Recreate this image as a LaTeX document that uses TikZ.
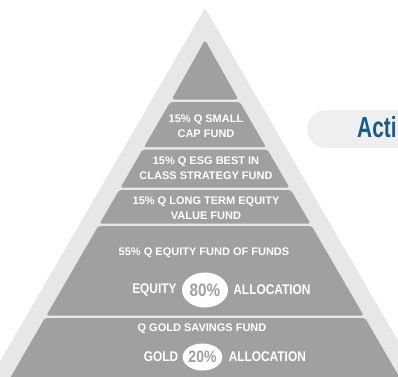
\documentclass[tikz,border=0pt]{standalone}
\usepackage{fontspec}
\setmainfont{Liberation Sans}
\newfontfamily\condfont[FakeStretch=0.85]{Liberation Sans}
\newfontfamily\titlefont[FakeStretch=0.72]{Liberation Sans}
\usetikzlibrary{shapes.geometric, positioning}
\definecolor{layergray}{RGB}{160,160,160}
\definecolor{framegray}{RGB}{230,231,231}
\definecolor{pillgray}{RGB}{239,239,239}
\definecolor{titleblue}{RGB}{22,92,140}

\begin{document}
\begin{tikzpicture}[
        x=1pt, y=-1pt,
        layer/.style={fill=layergray, rounded corners=2pt},
        fundlabel/.style={text=white, inner sep=0pt, align=center, font=\fontsize{11}{15}\selectfont\bfseries},
        sharelabel/.style={text=white, inner sep=0pt, font=\condfont\fontsize{14}{16}\selectfont\bfseries},
        sharebubble/.style={ellipse, fill=white, text=layergray, inner sep=0pt, font=\condfont\fontsize{18}{20}\selectfont\bfseries}
    ]

        \useasboundingbox (0,0) rectangle (398,376);
        \clip (0,0) rectangle (398,376);

        % frame and side box
        \fill[framegray, rounded corners=2pt] (205,8) -- (426.6,390) -- (-16.6,390) -- cycle;
        \fill[pillgray, rounded corners=19pt] (307,110) rectangle (450,148);
        \node[anchor=west, inner sep=0pt, text=titleblue, font=\titlefont\fontsize{29}{32}\selectfont\bfseries] (title) at (357,127) {Acti};

        % layers
        \fill[layer, rounded corners=3pt] (205,40) -- (238.35,99.5) -- (171.65,99.5) -- cycle;
        \fill[layer] (170.2,102) -- (239.8,102) -- (265.9,147) -- (144.1,147) -- cycle;
        \fill[layer] (142.65,149.5) -- (267.35,149.5) -- (289.4,187.5) -- (120.6,187.5) -- cycle;
        \fill[layer] (119.2,190) -- (290.8,190) -- (310.3,223.5) -- (99.7,223.5) -- cycle;
        \fill[layer] (98.3,226) -- (311.7,226) -- (363.6,315.5) -- (46.4,315.5) -- cycle;
        \fill[layer] (44.9,318) -- (365.1,318) -- (401,380) -- (9,380) -- cycle;

        \node[fundlabel] (smallcap) at (206,126.5) {15\% Q SMALL\\CAP FUND};
        \node[fundlabel] (esg) at (206,168) {15\% Q ESG BEST IN\\CLASS STRATEGY FUND};
        \node[fundlabel] (longterm) at (206,208) {15\% Q LONG TERM EQUITY\\VALUE FUND};
        \node[fundlabel] (fof) at (204,253) {55\% Q EQUITY FUND OF FUNDS};

        \node[sharebubble, minimum width=46pt, minimum height=35pt] (equity) at (205,290) {80\%};
        \node[sharelabel, left=5pt of equity] (equitytxt) {EQUITY};
        \node[sharelabel, right=5pt of equity] (equityalloc) {ALLOCATION};

        \node[fundlabel] (goldfund) at (202,329) {Q GOLD SAVINGS FUND};
        \node[sharebubble, minimum width=33pt, minimum height=27pt, font=\condfont\fontsize{16.5}{18}\selectfont\bfseries] (gold) at (202.5,357) {20\%};
        \node[sharelabel, left=4pt of gold] (goldtxt) {GOLD};
        \node[sharelabel, right=6pt of gold] (goldalloc) {ALLOCATION};

    \end{tikzpicture}
\end{document}
